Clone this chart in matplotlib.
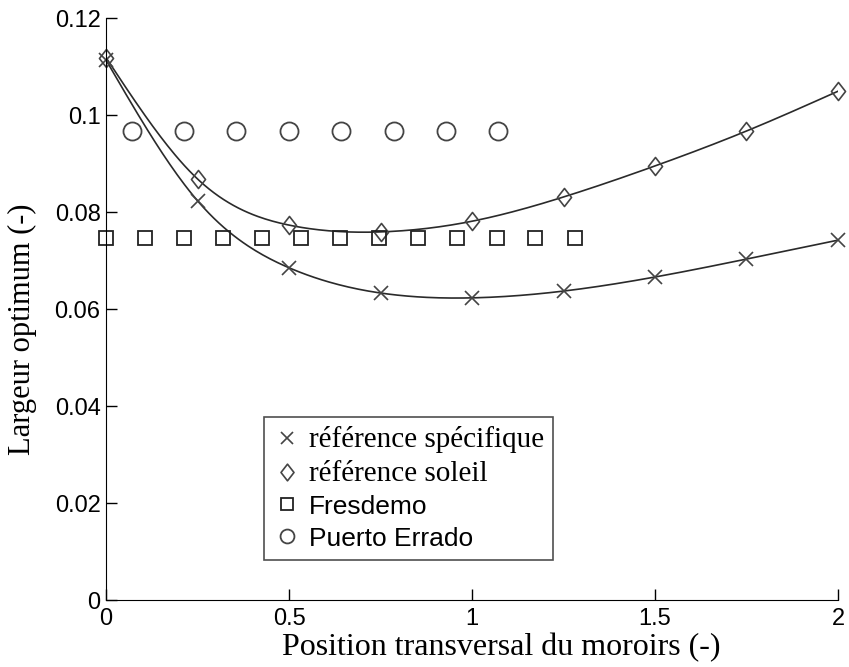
import numpy as np
import matplotlib
matplotlib.use('Agg')
import matplotlib.pyplot as plt
from matplotlib.path import Path

# values
x_ref = [0, 0.25, 0.5, 0.75, 1.0, 1.25, 1.5, 1.75, 2.0]
y_spec = [0.1113, 0.0823, 0.0685, 0.0633, 0.0623, 0.0637, 0.0666, 0.0703, 0.0742]
y_sol = [0.1118, 0.0868, 0.0773, 0.0759, 0.0781, 0.0831, 0.0895, 0.0967, 0.1049]

x_fres = [0, 0.107, 0.213, 0.32, 0.427, 0.533, 0.64, 0.747, 0.853, 0.96, 1.067, 1.173, 1.28]
y_fres = [0.0747] * len(x_fres)

x_pe = [0.07, 0.213, 0.356, 0.5, 0.643, 0.786, 0.929, 1.072]
y_pe = [0.0967] * len(x_pe)


def natural_spline(x, y, n=300):
    # plain natural cubic spline, so the curves go smooth through the points
    x = np.asarray(x, float)
    y = np.asarray(y, float)
    k = len(x)
    h = np.diff(x)
    A = np.zeros((k, k))
    b = np.zeros(k)
    A[0, 0] = A[-1, -1] = 1
    for i in range(1, k - 1):
        A[i, i - 1] = h[i - 1]
        A[i, i] = 2 * (h[i - 1] + h[i])
        A[i, i + 1] = h[i]
        b[i] = 3 * ((y[i + 1] - y[i]) / h[i] - (y[i] - y[i - 1]) / h[i - 1])
    c = np.linalg.solve(A, b)
    xs = np.linspace(x[0], x[-1], n)
    idx = np.clip(np.searchsorted(x, xs) - 1, 0, k - 2)
    dx = xs - x[idx]
    hi = h[idx]
    bb = (y[idx + 1] - y[idx]) / hi - hi * (2 * c[idx] + c[idx + 1]) / 3
    dd = (c[idx + 1] - c[idx]) / (3 * hi)
    ys = y[idx] + bb * dx + c[idx] * dx**2 + dd * dx**3
    return xs, ys


# diamond a bit narrower than tall, like the matlab one
diamond = Path([(0, 1), (0.78, 0), (0, -1), (-0.78, 0), (0, 1)],
               [Path.MOVETO, Path.LINETO, Path.LINETO, Path.LINETO, Path.CLOSEPOLY])

fig = plt.figure(figsize=(8.49, 6.67), dpi=100)
ax = fig.add_axes([0.125, 0.1004, 0.862, 0.8726])

grey = '#444444'
xs, ys = natural_spline(x_ref, y_spec)
ax.plot(xs, ys, color='#2a2a2a', lw=1.2)
xs, ys = natural_spline(x_ref, y_sol)
ax.plot(xs, ys, color='#2a2a2a', lw=1.2)

ax.plot(x_ref, y_spec, 'x', color=grey, ms=10, mew=1.2, clip_on=False, label='référence spécifique')
ax.plot(x_ref, y_sol, marker=diamond, ls='none', color=grey, mfc='none', ms=13, mew=1.2,
        clip_on=False, label='référence soleil')
ax.plot(x_fres, y_fres, 's', color='#222222', mfc='none', ms=10, mew=1.3, clip_on=False, label='Fresdemo')
ax.plot(x_pe, y_pe, 'o', color=grey, mfc='none', ms=13, mew=1.3, clip_on=False, label='Puerto Errado')

ax.set_xlim(0, 2)
ax.set_ylim(0, 0.12)
ax.set_xticks([0, 0.5, 1, 1.5, 2])
ax.set_xticklabels(['0', '0.5', '1', '1.5', '2'])
ax.set_yticks([0, 0.02, 0.04, 0.06, 0.08, 0.1, 0.12])
ax.set_yticklabels(['0', '0.02', '0.04', '0.06', '0.08', '0.1', '0.12'])
ax.spines['top'].set_visible(False)
ax.spines['right'].set_visible(False)
ax.tick_params(direction='in', length=8, width=1, labelsize=17)
ax.tick_params(axis='x', pad=6)
ax.tick_params(axis='y', pad=4)
for t in ax.get_xticklabels() + ax.get_yticklabels():
    t.set_fontfamily('Liberation Sans')

ax.set_xlabel('Position transversal du moroirs (-)', family='Liberation Serif', fontsize=23)
ax.xaxis.set_label_coords(0.54, -0.057)
ax.set_ylabel('Largeur optimum (-)', family='Liberation Serif', fontsize=22)
ax.yaxis.set_label_coords(-0.095, 0.465)

leg = ax.legend(loc='lower left', bbox_to_anchor=(0.216, 0.069), frameon=True, fancybox=False,
                edgecolor='#222222', fontsize=19, handletextpad=0.35, handlelength=1.0,
                borderpad=0.35, labelspacing=0.3, borderaxespad=0)
leg.get_frame().set_linewidth(1.2)
texts = leg.get_texts()
for t in texts[:2]:
    t.set_fontfamily('Liberation Serif')
    t.set_fontsize(21)
for t in texts[2:]:
    t.set_fontfamily('Liberation Sans')
    t.set_fontsize(19)
for h, ms in zip(leg.legend_handles, [9, 12, 9, 10]):
    h.set_markersize(ms)

fig.savefig('out.png', dpi=100)
